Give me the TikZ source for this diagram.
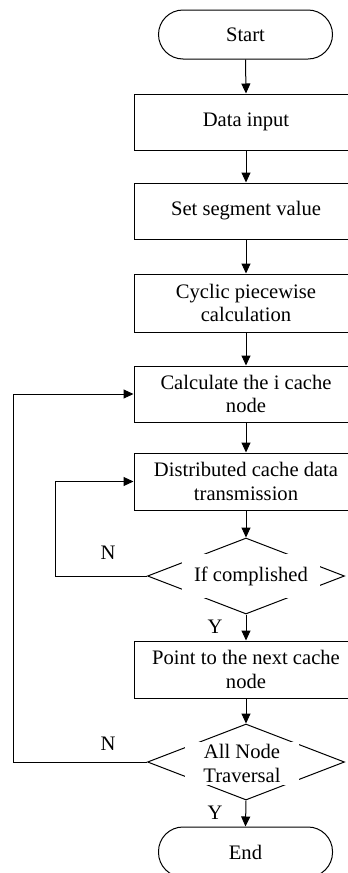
\documentclass[tikz,border=0pt]{standalone}
\usepackage{fontspec}
\setmainfont{Liberation Serif}
\usetikzlibrary{shapes.geometric,arrows.meta}
\begin{document}
\begin{tikzpicture}[x=1pt,y=-1pt,
  every node/.style={font=\fontsize{20.6pt}{23.5pt}\selectfont, inner sep=0pt},
  line/.style={draw=black, line width=1pt},
  arr/.style={line, -{Triangle[length=10pt,width=9pt]}},
  procbox/.style={line, rectangle, minimum width=224pt, align=center},
  termbox/.style={line, rectangle, rounded corners=24.5pt, minimum width=174pt, minimum height=49pt},
  decbox/.style={line, diamond, minimum width=197pt, minimum height=76pt},
  declabel/.style={fill=white, align=center},
  lbl/.style={font=\fontsize{20.6pt}{23.5pt}\selectfont}
]
\useasboundingbox (0,0) rectangle (348,873);
\node[termbox] (start) at (245.5,34.5) {Start};
\node[procbox, minimum height=56pt] (data) at (246,122) {Data input};
\node[procbox, minimum height=56pt] (seg) at (246,211) {Set segment value};
\node[procbox, minimum height=58pt] (cyc) at (246,303) {Cyclic piecewise\\calculation};
\node[procbox, minimum height=56pt] (calc) at (246,394) {Calculate the i cache\\node};
\node[procbox, minimum height=57pt] (dist) at (246,481.5) {Distributed cache data\\transmission};
\node[decbox] (d1) at (246,576) {};
\node[declabel, minimum width=138pt, minimum height=44pt] (d1t) at (251,576) {If complished};
\node[procbox, minimum height=57pt] (point) at (246,669.5) {Point to the next cache\\node};
\node[decbox] (d2) at (246,762) {};
\node[declabel, minimum width=114pt, minimum height=43pt] (d2t) at (242,763.5) {All Node\\Traversal};
\node[termbox, minimum height=50pt] (end) at (245.5,852) {End};

\draw[arr] (start.south) -- (data.north);
\draw[arr] (data.south) -- (seg.north);
\draw[arr] (seg.south) -- (cyc.north);
\draw[arr] (cyc.south) -- (calc.north);
\draw[arr] (calc.south) -- (dist.north);
\draw[arr] (dist.south) -- (d1.north);
\draw[arr] (d1.south) -- (point.north);
\draw[arr] (point.south) -- (d2.north);
\draw[arr] (d2.south) -- (end.north);

\coordinate (c1) at (55,576);
\coordinate (c2) at (13,762);
\draw[arr] (d1.west) -- (c1) |- (dist.west);
\draw[arr] (d2.west) -- (c2) |- (calc.west);

\node[lbl] (n1) at (108,553) {N};
\node[lbl] (n2) at (108,744) {N};
\node[lbl] (y1) at (215,627) {Y};
\node[lbl] (y2) at (215,813) {Y};
\end{tikzpicture}
\end{document}
